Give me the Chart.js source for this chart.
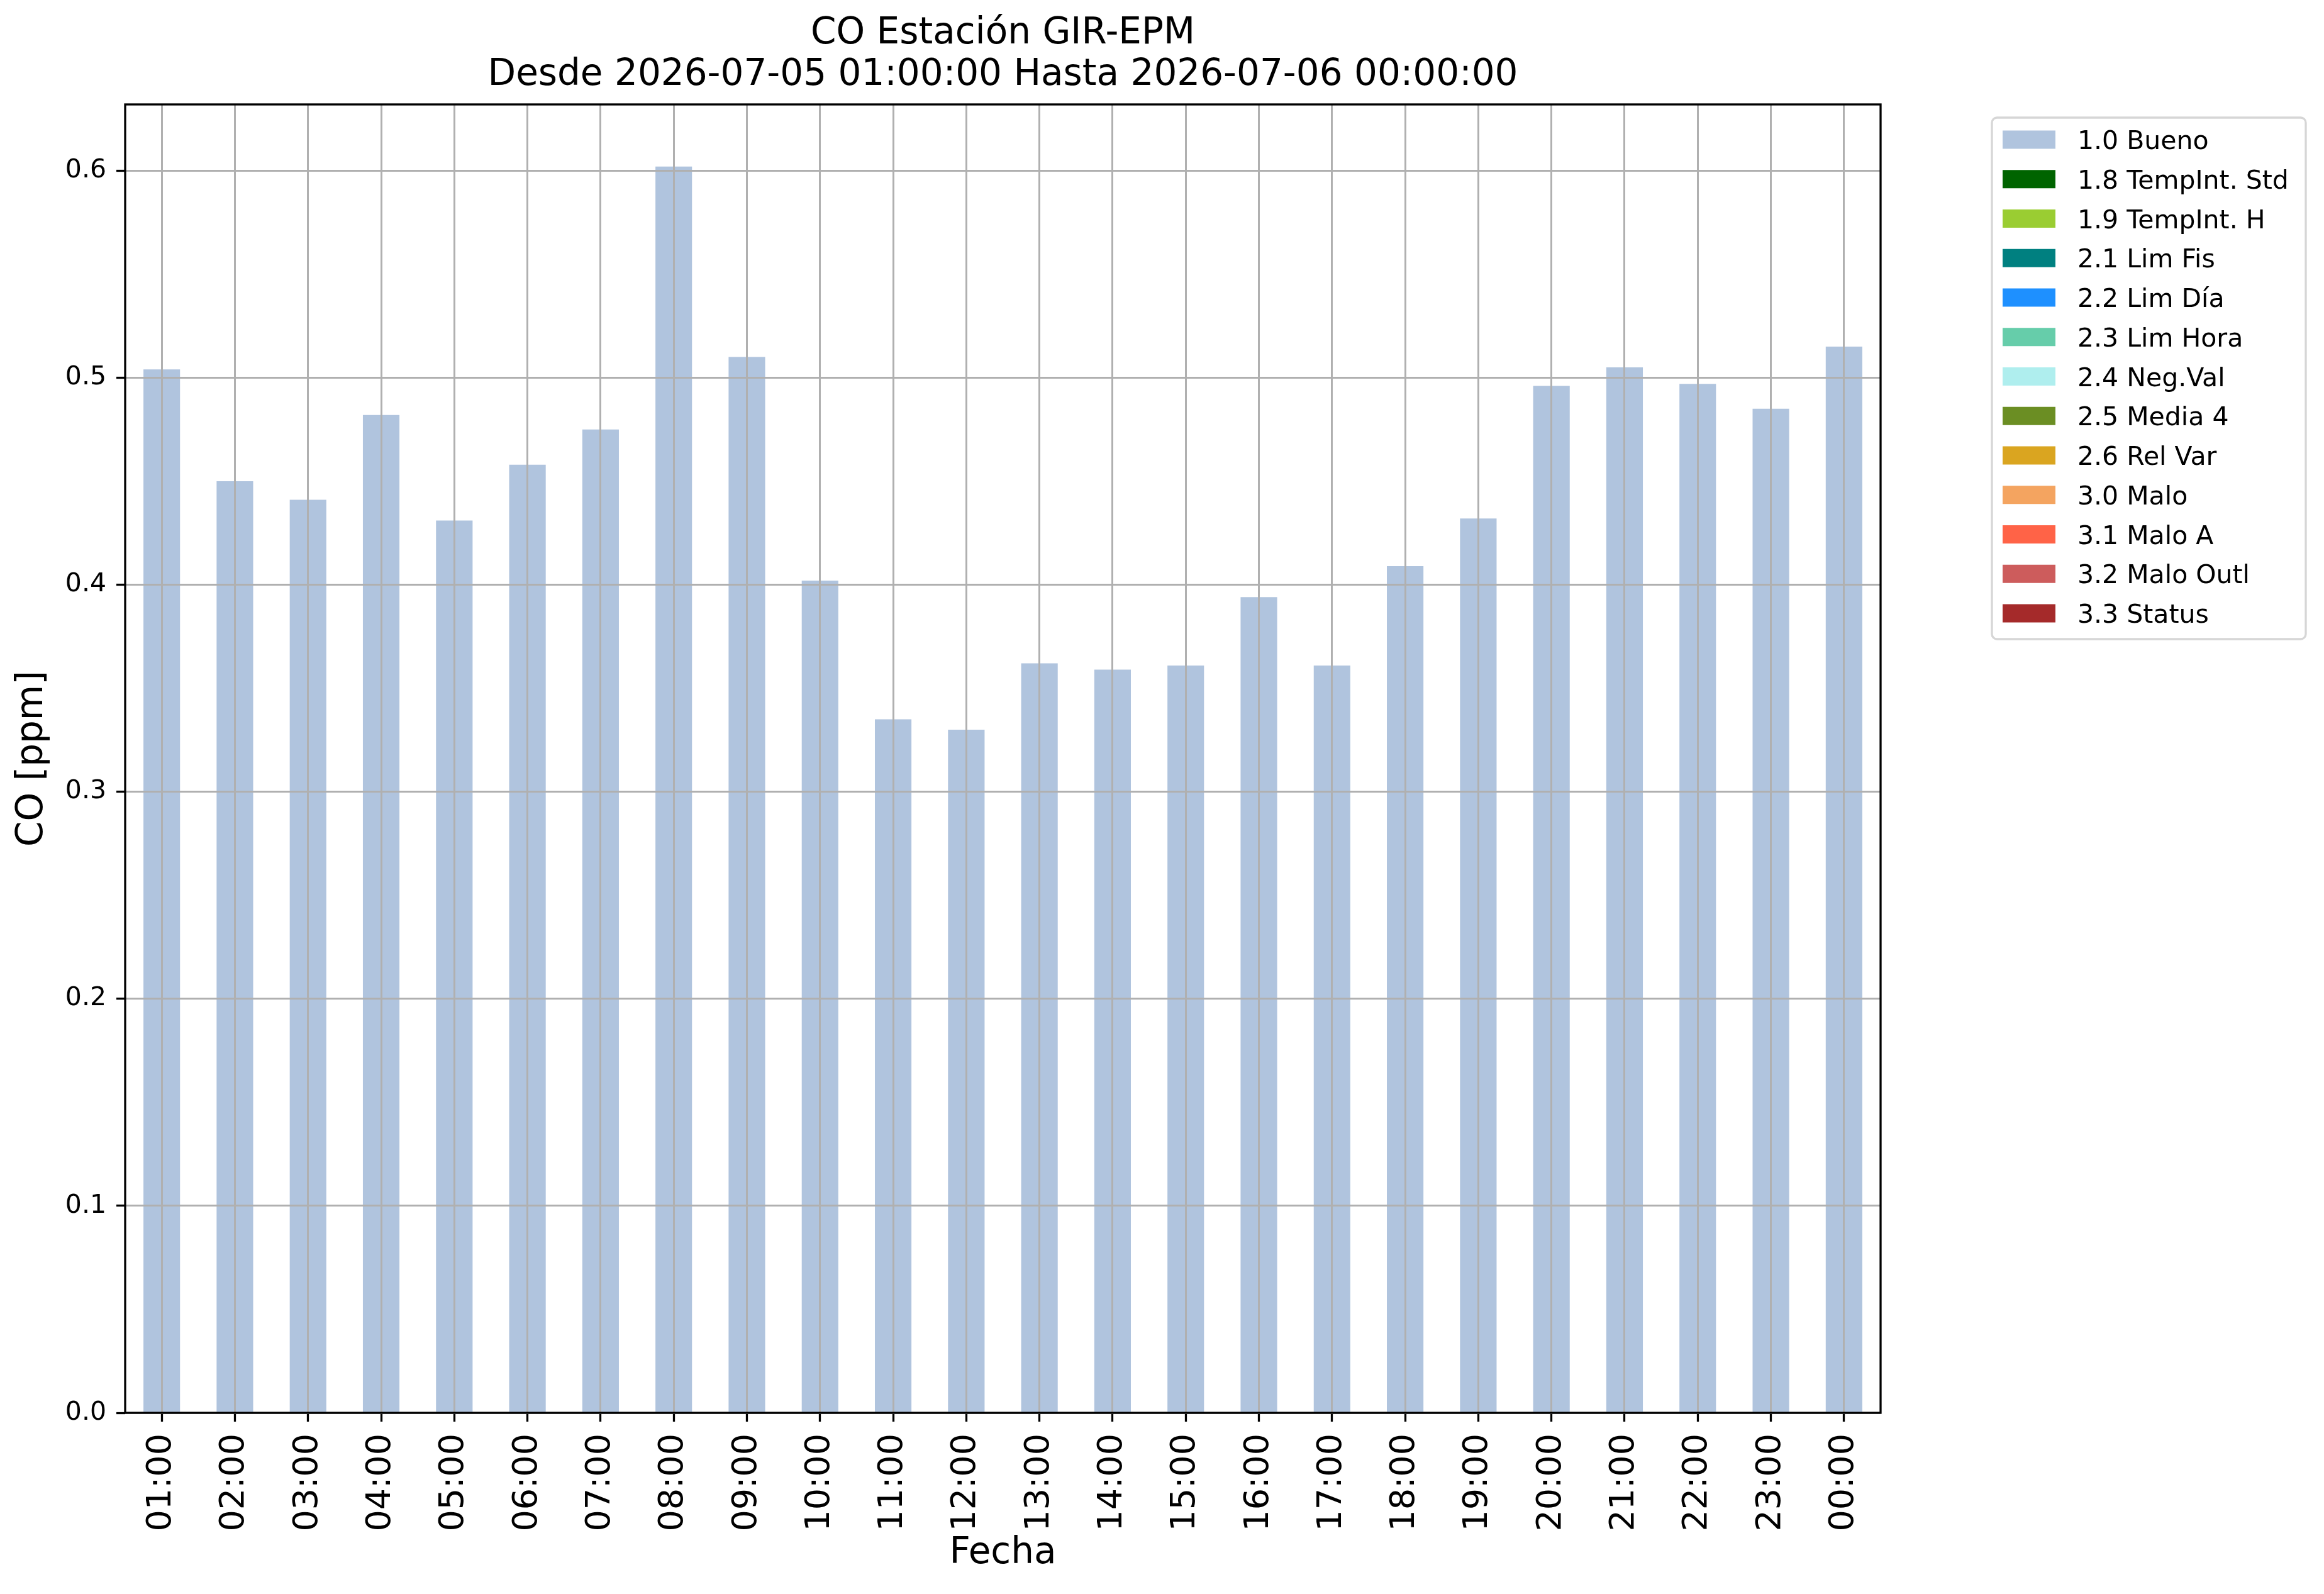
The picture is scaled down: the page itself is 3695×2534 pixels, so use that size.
<!DOCTYPE html>
<html>
<head>
<meta charset="utf-8">
<script src="https://cdn.jsdelivr.net/npm/chart.js@4.4.1/dist/chart.umd.min.js"></script>
<style>
  html, body { margin: 0; padding: 0; background: #fff; }
  canvas { display: block; }
</style>
</head>
<body>
<canvas id="coChart" width="3695" height="2534" style="width:3695px;height:2534px"></canvas>
<script>
const horas = ['01:00', '02:00', '03:00', '04:00', '05:00', '06:00', '07:00', '08:00',
               '09:00', '10:00', '11:00', '12:00', '13:00', '14:00', '15:00', '16:00',
               '17:00', '18:00', '19:00', '20:00', '21:00', '22:00', '23:00', '00:00'];
const coBueno = [0.504, 0.450, 0.441, 0.482, 0.431, 0.458, 0.475, 0.602,
                 0.510, 0.402, 0.335, 0.330, 0.362, 0.359, 0.361, 0.394,
                 0.361, 0.409, 0.432, 0.496, 0.505, 0.497, 0.485, 0.515];
const categorias = ['1.0 Bueno', '1.8 TempInt. Std', '1.9 TempInt. H', '2.1 Lim Fis',
                    '2.2 Lim Día', '2.3 Lim Hora', '2.4 Neg.Val', '2.5 Media 4',
                    '2.6 Rel Var', '3.0 Malo', '3.1 Malo A', '3.2 Malo Outl', '3.3 Status'];
const colores = ['#b0c4de', '#006400', '#9acd32', '#008080', '#1e90ff', '#66cdaa',
                 '#afeeee', '#6b8e23', '#daa520', '#f4a460', '#ff6347', '#cd5c5c', '#a52a2a'];
const yTicks = [0.0, 0.1, 0.2, 0.3, 0.4, 0.5, 0.6];

Chart.defaults.font.family = 'DejaVu Sans';
Chart.defaults.color = '#000';

const ctx = document.getElementById('coChart').getContext('2d');

// marco completo del eje (los 4 lados) + leyenda con recuadro
const marcoYLeyenda = {
    id: 'marcoYLeyenda',
    afterDraw(chart) {
        const c = chart.ctx;
        const a = chart.chartArea;
        c.save();
        c.strokeStyle = '#000';
        c.lineWidth = 3.3;
        c.strokeRect(a.left, a.top, a.right - a.left, a.bottom - a.top);

        // leyenda
        const bx = 3167, by = 187, bw = 499, bh = 829, r = 8;
        c.beginPath();
        c.moveTo(bx + r, by);
        c.arcTo(bx + bw, by, bx + bw, by + bh, r);
        c.arcTo(bx + bw, by + bh, bx, by + bh, r);
        c.arcTo(bx, by + bh, bx, by, r);
        c.arcTo(bx, by, bx + bw, by, r);
        c.closePath();
        c.fillStyle = '#fff';
        c.fill();
        c.strokeStyle = '#d6d6d6';
        c.lineWidth = 3.3;
        c.stroke();

        c.font = '41px "DejaVu Sans"';
        c.textAlign = 'left';
        c.textBaseline = 'alphabetic';
        chart.data.datasets.forEach((ds, i) => {
            const cy = 222 + i * 62.75;
            c.fillStyle = ds.backgroundColor;
            c.fillRect(3184, cy - 14.5, 84, 29);
            c.fillStyle = '#000';
            c.fillText(ds.label, 3303, cy + 15);
        });
        c.restore();
    }
};

const coChart = new Chart(ctx, {
    type: 'bar',
    data: {
        labels: horas,
        datasets: categorias.map((cat, i) => ({
            label: cat,
            data: i === 0 ? coBueno : [],
            backgroundColor: colores[i],
            borderWidth: 0,
            barPercentage: 0.5,
            categoryPercentage: 1.0
        }))
    },
    options: {
        responsive: false,
        devicePixelRatio: 1,
        animation: false,
        events: [],
        layout: {
            padding: { top: 0, right: 705, bottom: 0, left: 0 }
        },
        plugins: {
            legend: { display: false },
            tooltip: { enabled: false },
            title: {
                display: true,
                fullSize: false,
                text: ['CO Estación GIR-EPM', 'Desde 2026-07-05 01:00:00 Hasta 2026-07-06 00:00:00'],
                color: '#000',
                font: { size: 58, weight: 'normal', lineHeight: 1.138 },
                padding: { top: 21, bottom: 13 }
            }
        },
        scales: {
            x: {
                stacked: true,
                offset: true,
                grid: {
                    offset: false,
                    z: 1,
                    color: '#b0b0b0',
                    lineWidth: 3,
                    tickColor: '#000',
                    tickWidth: 3.3,
                    tickLength: 14
                },
                border: { display: false },
                ticks: {
                    minRotation: 90,
                    maxRotation: 90,
                    autoSkip: false,
                    padding: 19,
                    color: '#000',
                    font: { size: 54 }
                },
                title: {
                    display: true,
                    text: 'Fecha',
                    color: '#000',
                    font: { size: 58 },
                    padding: { top: 0, bottom: 29 }
                },
                afterFit: (scale) => { scale.height = 288; }
            },
            y: {
                stacked: true,
                min: 0,
                max: 0.632,
                afterBuildTicks: (scale) => {
                    scale.ticks = yTicks.map(v => ({ value: v }));
                },
                grid: {
                    z: 1,
                    color: '#b0b0b0',
                    lineWidth: 3,
                    tickColor: '#000',
                    tickWidth: 3.3,
                    tickLength: 14
                },
                border: { display: false },
                ticks: {
                    padding: 16,
                    color: '#000',
                    font: { size: 41 },
                    callback: (v) => Number(v).toFixed(1)
                },
                title: {
                    display: true,
                    text: 'CO [ppm]',
                    color: '#000',
                    font: { size: 58 },
                    padding: { top: 17, bottom: 0 }
                },
                afterFit: (scale) => { scale.width = 199; }
            }
        }
    },
    plugins: [marcoYLeyenda]
});
</script>
</body>
</html>
